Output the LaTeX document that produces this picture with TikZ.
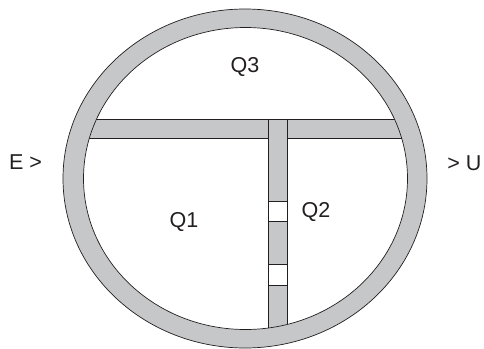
\documentclass[tikz,border=0pt]{standalone}
\usepackage{fontspec}
\setmainfont{Liberation Sans}
\definecolor{ringgrey}{RGB}{198,199,201}
\definecolor{inkline}{RGB}{35,31,32}
\begin{document}
\begin{tikzpicture}[x=1pt,y=-1pt,
  outline/.style={draw=inkline,line width=0.7pt},
  lbl/.style={font=\fontsize{21.5}{24}\selectfont,text=inkline,inner sep=0pt}]
\useasboundingbox (0,0) rectangle (484,348);
% ring
\fill[ringgrey] (245,178.5) ellipse [x radius=182,y radius=169.5];
\draw[outline] (245,178.5) ellipse [x radius=182,y radius=169.5];
\fill[white] (245.5,178.5) ellipse [x radius=162,y radius=151];
% bars clipped to inner ellipse
\begin{scope}
  \clip (245.5,178.5) ellipse [x radius=162,y radius=151];
  \fill[ringgrey] (60,119) rectangle (430,138);
  \draw[outline] (60,119) -- (430,119);
  \draw[outline] (60,138) -- (430,138);
  \fill[ringgrey] (268,119) rectangle (287,340);
  \draw[outline] (268,119) -- (268,340);
  \draw[outline] (287,119) -- (287,340);
  \draw[outline] (268,119) -- (287,119);
  \draw[outline,fill=white] (268,201) rectangle (287,221);
  \draw[outline,fill=white] (268,264) rectangle (287,285);
\end{scope}
\draw[outline] (245.5,178.5) ellipse [x radius=162,y radius=151];
% labels
\node[lbl] (q3) at (245,67) {Q3};
\node[lbl] (q1) at (184,222) {Q1};
\node[lbl] (q2) at (316,212) {Q2};
\node[lbl] (e) at (25.5,162) {E >};
\node[lbl] (u) at (464.5,163) {> U};
\end{tikzpicture}
\end{document}
